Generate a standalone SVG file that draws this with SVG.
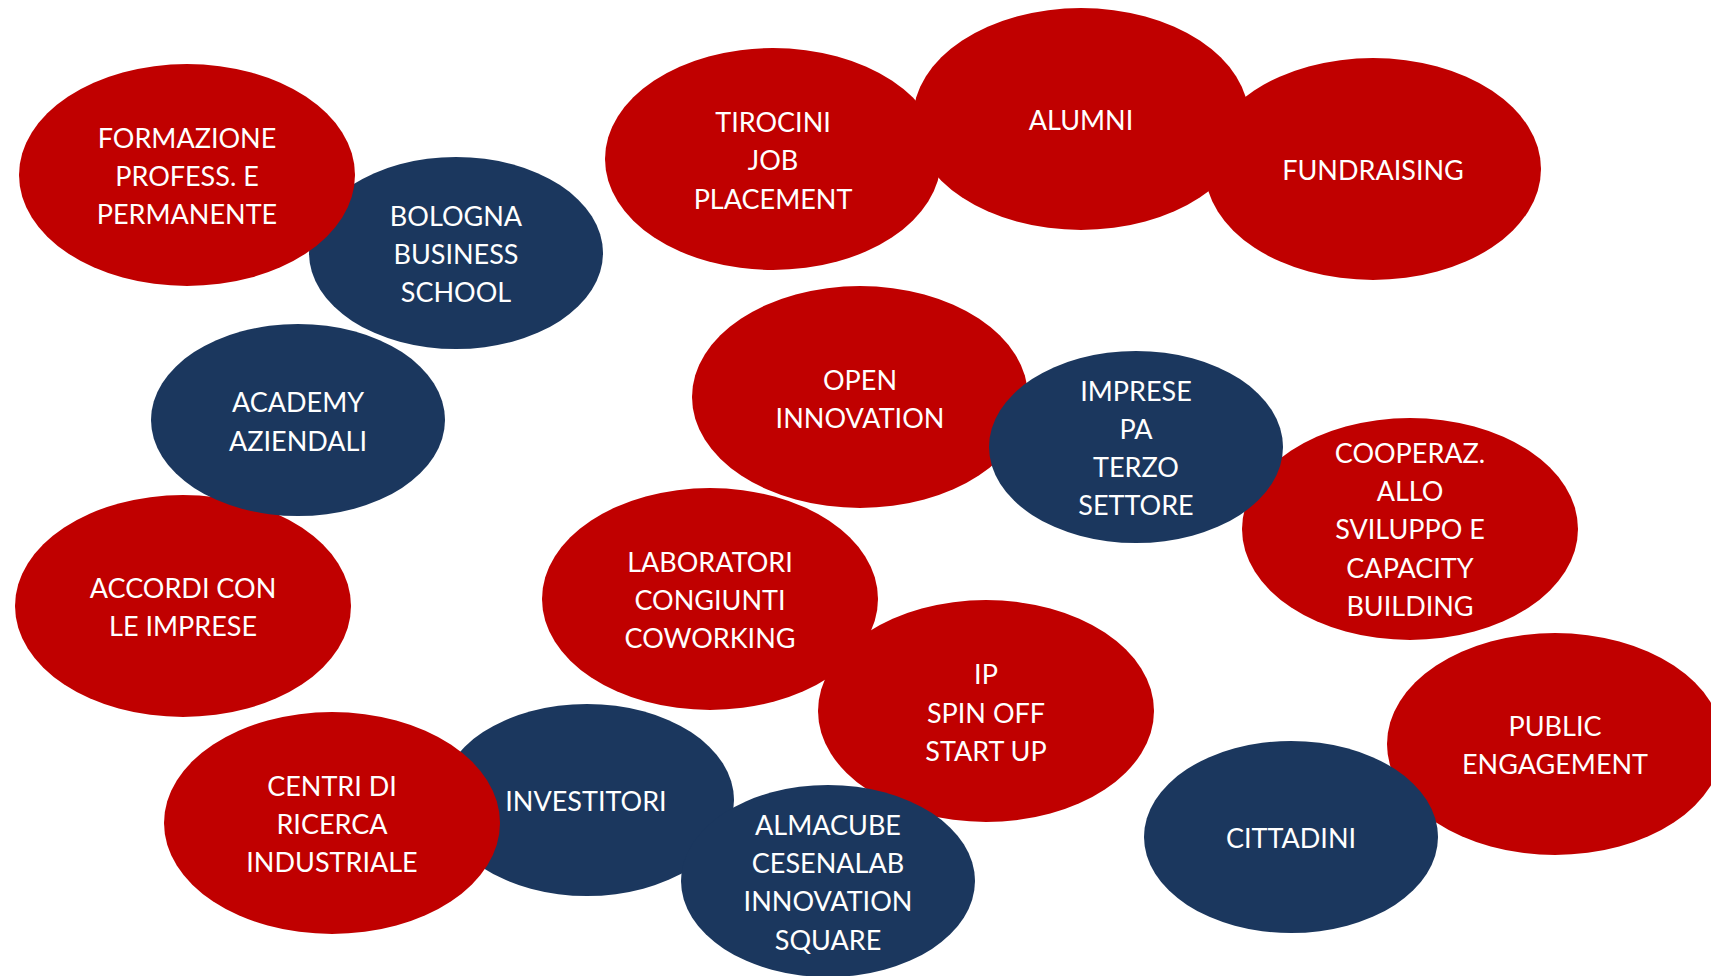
<svg xmlns="http://www.w3.org/2000/svg" width="1711" height="976" viewBox="0 0 1711 976">
<style>
.r{fill:#C00000}
.b{fill:#1B375E}
text{font-family:"Lato","Liberation Sans",sans-serif;font-size:27px;fill:#FFFFFF;text-anchor:middle}
</style>
<rect width="1711" height="976" fill="#FFFFFF"/>
<g id="connectors"></g>
<g id="n-bbs"><ellipse class="b" cx="456" cy="253" rx="147" ry="96"/><text x="456" y="226">BOLOGNA</text><text x="456" y="264">BUSINESS</text><text x="456" y="302">SCHOOL</text></g>
<g id="n-formazione"><ellipse class="r" cx="187" cy="175" rx="168" ry="111"/><text x="187" y="148">FORMAZIONE</text><text x="187" y="186">PROFESS. E</text><text x="187" y="224">PERMANENTE</text></g>
<g id="n-accordi"><ellipse class="r" cx="183" cy="606" rx="168" ry="111"/><text x="183" y="598">ACCORDI CON</text><text x="183" y="636">LE IMPRESE</text></g>
<g id="n-academy"><ellipse class="b" cx="298" cy="420" rx="147" ry="96"/><text x="298" y="412">ACADEMY</text><text x="298" y="451">AZIENDALI</text></g>
<g id="n-investitori"><ellipse class="b" cx="587" cy="800" rx="147" ry="96"/><text x="586" y="811">INVESTITORI</text></g>
<g id="n-centri"><ellipse class="r" cx="332" cy="823" rx="168" ry="111"/><text x="332" y="796">CENTRI DI</text><text x="332" y="834">RICERCA</text><text x="332" y="872">INDUSTRIALE</text></g>
<g id="n-tirocini"><ellipse class="r" cx="773" cy="159" rx="168" ry="111"/><text x="773" y="132">TIROCINI</text><text x="773" y="170">JOB</text><text x="773" y="209">PLACEMENT</text></g>
<g id="n-alumni"><ellipse class="r" cx="1081" cy="119" rx="168" ry="111"/><text x="1081" y="130">ALUMNI</text></g>
<g id="n-fundraising"><ellipse class="r" cx="1373" cy="169" rx="168" ry="111"/><text x="1373" y="180">FUNDRAISING</text></g>
<g id="n-open"><ellipse class="r" cx="860" cy="397" rx="168" ry="111"/><text x="860" y="390">OPEN</text><text x="860" y="428">INNOVATION</text></g>
<g id="n-cooperaz"><ellipse class="r" cx="1410" cy="529" rx="168" ry="111"/><text x="1410" y="463">COOPERAZ.</text><text x="1410" y="501">ALLO</text><text x="1410" y="539">SVILUPPO E</text><text x="1410" y="578">CAPACITY</text><text x="1410" y="616">BUILDING</text></g>
<g id="n-imprese"><ellipse class="b" cx="1136" cy="447" rx="147" ry="96"/><text x="1136" y="401">IMPRESE</text><text x="1136" y="439">PA</text><text x="1136" y="477">TERZO</text><text x="1136" y="515">SETTORE</text></g>
<g id="n-lab"><ellipse class="r" cx="710" cy="599" rx="168" ry="111"/><text x="710" y="572">LABORATORI</text><text x="710" y="610">CONGIUNTI</text><text x="710" y="648">COWORKING</text></g>
<g id="n-ip"><ellipse class="r" cx="986" cy="711" rx="168" ry="111"/><text x="986" y="684">IP</text><text x="986" y="723">SPIN OFF</text><text x="986" y="761">START UP</text></g>
<g id="n-almacube"><ellipse class="b" cx="828" cy="881" rx="147" ry="96"/><text x="828" y="835">ALMACUBE</text><text x="828" y="873">CESENALAB</text><text x="828" y="911">INNOVATION</text><text x="828" y="950">SQUARE</text></g>
<g id="n-public"><ellipse class="r" cx="1555" cy="744" rx="168" ry="111"/><text x="1555" y="736">PUBLIC</text><text x="1555" y="774">ENGAGEMENT</text></g>
<g id="n-cittadini"><ellipse class="b" cx="1291" cy="837" rx="147" ry="96"/><text x="1291" y="848">CITTADINI</text></g>
</svg>
